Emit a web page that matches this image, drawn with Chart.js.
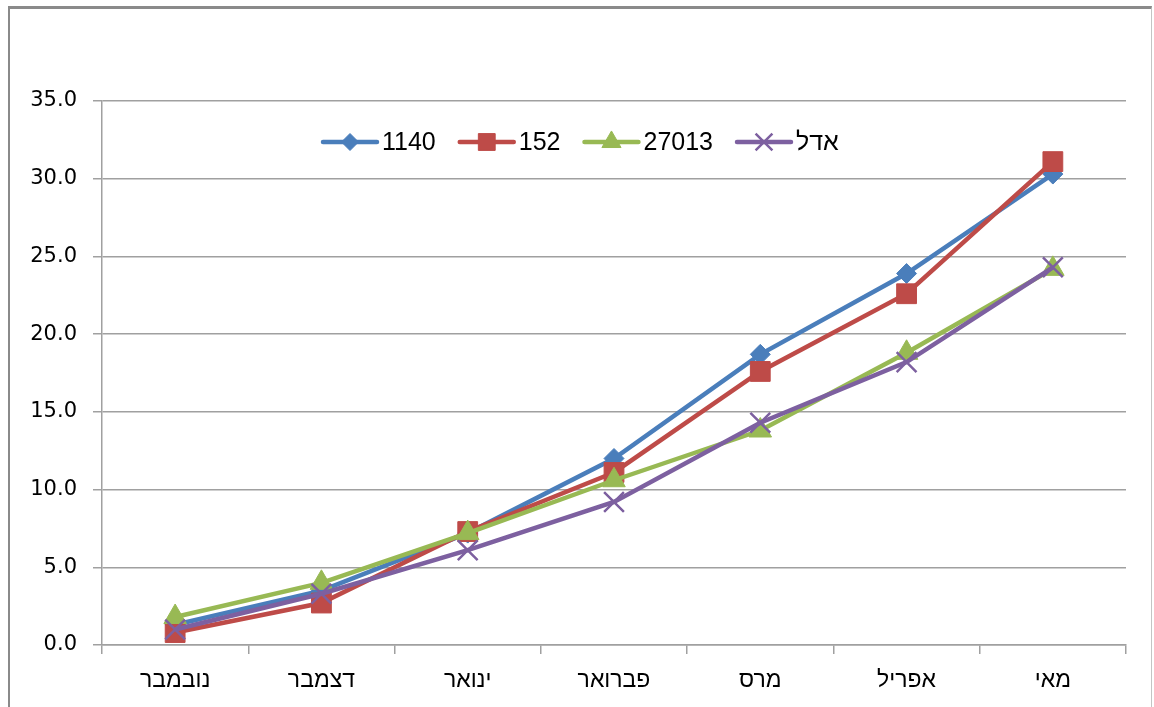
<!DOCTYPE html>
<html>
<head>
<meta charset="utf-8">
<script src="https://cdn.jsdelivr.net/npm/chart.js@4.4.1/dist/chart.umd.min.js"></script>
<style>
  html, body { margin: 0; padding: 0; background: #fff; overflow: hidden; }
  #frame { position: absolute; left: 8px; top: 6px; width: 1141px; height: 720px;
           border-top: 3px solid #8a8a8a; border-left: 2px solid #8a8a8a; border-right: 1px solid #c4c4c4; }
  #wrap { position: absolute; left: 0; top: 0; width: 1154px; height: 707px; }
</style>
</head>
<body>
<div id="frame"></div>
<div id="wrap"><canvas id="chart"></canvas></div>
<script>
// months, Hebrew
var months = ['נובמבר', 'דצמבר', 'ינואר', 'פברואר', 'מרס', 'אפריל', 'מאי'];
var seriesNames = ['1140', '152', '27013', 'אדל'];
var s1140 = [1.3, 3.5, 7.2, 12.0, 18.7, 23.9, 30.3];
var s152 = [0.8, 2.7, 7.3, 11.1, 17.6, 22.6, 31.1];
var s27013 = [1.8, 4.0, 7.2, 10.6, 13.8, 18.8, 24.2];
var sAdel = [1.0, 3.3, 6.1, 9.2, 14.3, 18.2, 24.3];
var yTicks = [0, 5, 10, 15, 20, 25, 30, 35];

var gridColor = '#a0a0a0';

function makeSet(name, data, color, style, radius, bw, order) {
    return {
        label: name,
        data: data,
        borderColor: color,
        backgroundColor: color,
        borderWidth: 4.5,
        pointStyle: style,
        pointRadius: radius,
        pointHoverRadius: radius,
        pointBorderColor: color,
        pointBackgroundColor: color,
        pointBorderWidth: bw,
        tension: 0,
        order: order
    };
}

// legend drawn inside the plot area, like the original
var innerLegend = {
    id: 'innerLegend',
    afterDraw: function (chart) {
        var ctx = chart.ctx;
        var sets = chart.data.datasets;
        var y = 142;
        var x = 323;
        ctx.save();
        ctx.font = '25px "Liberation Sans", Arial, sans-serif';
        ctx.textBaseline = 'middle';
        ctx.textAlign = 'left';
        for (var i = 0; i < sets.length; i++) {
            var ds = sets[i];
            ctx.strokeStyle = ds.borderColor;
            ctx.lineWidth = 4.5;
            ctx.lineCap = 'round';
            ctx.beginPath();
            ctx.moveTo(x, y);
            ctx.lineTo(x + 54, y);
            ctx.stroke();
            ctx.fillStyle = ds.backgroundColor;
            ctx.lineWidth = ds.pointBorderWidth;
            ctx.lineCap = 'butt';
            Chart.helpers.drawPoint(ctx, {
                pointStyle: ds.pointStyle,
                rotation: 0,
                radius: ds.pointRadius * 0.85,
                borderWidth: ds.pointBorderWidth
            }, x + 27, y);
            ctx.fillStyle = '#000';
            ctx.fillText(ds.label, x + 59, y + 1);
            x += 59 + ctx.measureText(ds.label).width + 24;
        }
        ctx.restore();
    }
};

new Chart(document.getElementById('chart'), {
    type: 'line',
    data: {
        labels: months,
        datasets: [
            makeSet(seriesNames[0], s1140, '#4a7ebb', 'rectRot', 10, 1, 4),
            makeSet(seriesNames[1], s152, '#be4b48', 'rect', 14, 1, 3),
            makeSet(seriesNames[2], s27013, '#98b954', 'triangle', 13, 1, 2),
            makeSet(seriesNames[3], sAdel, '#7d60a0', 'crossRot', 14, 2.5, 1)
        ]
    },
    options: {
        responsive: true,
        maintainAspectRatio: false,
        animation: false,
        layout: { padding: { top: 101, right: 28, left: 0, bottom: 0 } },
        plugins: {
            legend: { display: false },
            tooltip: { enabled: false }
        },
        scales: {
            x: {
                offset: true,
                afterFit: function (s) { s.height = 62; },
                grid: {
                    offset: true,
                    drawOnChartArea: false,
                    drawTicks: true,
                    tickLength: 9,
                    color: gridColor,
                    lineWidth: 1.5
                },
                border: { color: gridColor, width: 1.5 },
                ticks: {
                    color: '#000',
                    padding: 13,
                    maxRotation: 0,
                    font: { family: '"Liberation Sans", Arial, sans-serif', size: 23 }
                }
            },
            y: {
                min: 0,
                max: 35,
                afterFit: function (s) { s.width = 102; },
                afterBuildTicks: function (s) {
                    s.ticks = yTicks.map(function (v) { return { value: v }; });
                },
                grid: {
                    color: gridColor,
                    lineWidth: 1.5,
                    tickLength: 9
                },
                border: { color: gridColor, width: 1.5 },
                ticks: {
                    color: '#000',
                    padding: 16,
                    font: { family: '"DejaVu Sans", Verdana, sans-serif', size: 21 },
                    callback: function (v) { return Number(v).toFixed(1); }
                }
            }
        }
    },
    plugins: [innerLegend]
});
</script>
</body>
</html>
